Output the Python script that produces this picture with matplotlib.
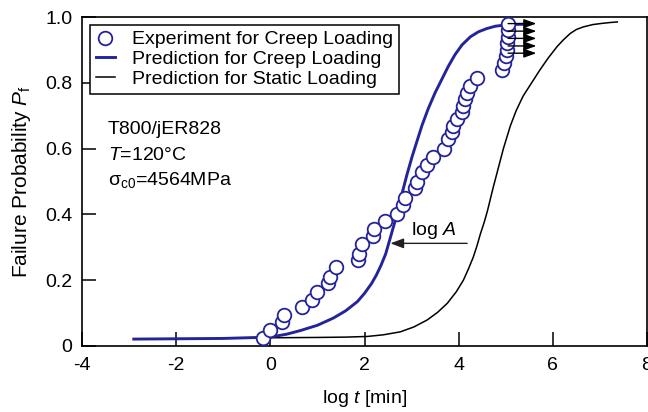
import matplotlib
matplotlib.use("Agg")
import matplotlib.pyplot as plt
from matplotlib.lines import Line2D

plt.rcParams['font.family'] = ['Liberation Sans', 'DejaVu Sans']
plt.rcParams['mathtext.fontset'] = 'custom'
plt.rcParams['mathtext.rm'] = 'Liberation Sans'
plt.rcParams['mathtext.it'] = 'Liberation Sans:italic'
plt.rcParams['mathtext.bf'] = 'Liberation Sans:bold'

# Experiment for creep loading (log t [min], failure probability)
exp_logt = [-0.15, 0.00, 0.25, 0.28, 0.68, 0.89, 1.00, 1.23, 1.27, 1.40,
            1.87, 1.89, 1.95, 2.17, 2.20, 2.44, 2.70, 2.82, 2.87, 3.08,
            3.12, 3.22, 3.33, 3.46, 3.68, 3.78, 3.86, 3.89, 3.96, 4.07,
            4.10, 4.14, 4.18, 4.25, 4.39, 4.92, 4.97, 5.01, 5.03, 5.03,
            5.04, 5.05, 5.05]
exp_pf = [0.024, 0.049, 0.073, 0.094, 0.119, 0.140, 0.164, 0.190, 0.210, 0.240,
          0.260, 0.280, 0.310, 0.335, 0.355, 0.380, 0.400, 0.430, 0.450, 0.480,
          0.500, 0.530, 0.550, 0.575, 0.600, 0.630, 0.650, 0.670, 0.690, 0.710,
          0.730, 0.750, 0.770, 0.790, 0.815, 0.840, 0.860, 0.880, 0.900, 0.920,
          0.940, 0.960, 0.980]

# Run-outs (arrows) at the top of the data column
runout_logt = [5.05, 5.05, 5.05, 5.05, 5.05]
runout_pf = [0.980, 0.957, 0.935, 0.912, 0.890]

# Prediction for creep loading
creep_logt = [-2.9, -1.0, 0.0, 0.35, 0.64, 1.0, 1.34, 1.6, 1.85, 2.0, 2.15, 2.25,
              2.35, 2.45, 2.55, 2.65, 2.73, 2.80, 2.9, 3.01, 3.12, 3.22, 3.35,
              3.5, 3.64, 3.78, 3.92, 4.07, 4.25, 4.42, 4.6, 4.78, 5.05, 5.40]
creep_pf = [0.021, 0.023, 0.027, 0.036, 0.047, 0.063, 0.085, 0.107, 0.135, 0.160,
            0.190, 0.215, 0.245, 0.280, 0.330, 0.380, 0.425, 0.465, 0.520, 0.575,
            0.625, 0.670, 0.720, 0.770, 0.810, 0.850, 0.885, 0.915, 0.940, 0.955,
            0.965, 0.972, 0.977, 0.978]

# Prediction for static loading
static_logt = [0.0, 1.0, 1.6, 2.06, 2.4, 2.76, 3.05, 3.33, 3.55, 3.76, 3.95, 4.10,
               4.21, 4.31, 4.39, 4.46, 4.54, 4.61, 4.67, 4.73, 4.84, 4.95, 5.10,
               5.22, 5.37, 5.55, 5.73, 5.90, 6.09, 6.22, 6.37, 6.50, 6.65, 6.85,
               7.01, 7.20, 7.37]
static_pf = [0.025, 0.026, 0.027, 0.029, 0.034, 0.043, 0.058, 0.079, 0.102, 0.130,
             0.165, 0.200, 0.235, 0.270, 0.305, 0.340, 0.375, 0.410, 0.445, 0.480,
             0.540, 0.600, 0.670, 0.715, 0.760, 0.800, 0.840, 0.875, 0.910, 0.930,
             0.950, 0.962, 0.970, 0.977, 0.980, 0.983, 0.985]

xticks = [-4, -2, 0, 2, 4, 6, 8]
xticklabels = ['-4', '-2', '0', '2', '4', '6', '8']
yticks = [0, 0.2, 0.4, 0.6, 0.8, 1.0]
yticklabels = ['0', '0.2', '0.4', '0.6', '0.8', '1.0']

blue = '#24249a'
fs = 14

fig = plt.figure(figsize=(6.48, 4.12), dpi=100)
ax = fig.add_axes([82/648, 66/412, 565/648, 329/412])

ax.plot(static_logt, static_pf, color='black', lw=1.1, zorder=2)
ax.plot(creep_logt, creep_pf, color=blue, lw=2.1, zorder=3)
ax.plot(exp_logt, exp_pf, linestyle='none', marker='o', ms=9.8,
        mfc='white', mec=blue, mew=1.3, zorder=4)

for xr, yr in zip(runout_logt, runout_pf):
    ax.annotate('', xy=(xr + 0.6, yr), xytext=(xr, yr),
                arrowprops=dict(arrowstyle='-|>,head_length=0.75,head_width=0.27',
                                color='black', lw=1.0, shrinkA=0, shrinkB=0),
                zorder=5)

# log A arrow
ax.annotate('', xy=(2.55, 0.312), xytext=(4.18, 0.312),
            arrowprops=dict(arrowstyle='-|>,head_length=0.8,head_width=0.3',
                            color='#231f20', lw=1.0, shrinkA=0, shrinkB=0))
ax.text(3.46, 0.338, 'log $A$', ha='center', va='baseline', fontsize=fs)

ax.set_xlim(-4, 8)
ax.set_ylim(0, 1.0)
ax.set_xticks(xticks)
ax.set_xticklabels(xticklabels)
ax.set_yticks(yticks)
ax.set_yticklabels(yticklabels)
ax.tick_params(axis='both', direction='in', length=10, width=1.1, labelsize=fs)
ax.tick_params(axis='x', pad=8)
ax.tick_params(axis='y', pad=7)
for s in ax.spines.values():
    s.set_linewidth(1.2)

ax.set_xlabel('log $t$ [min]', fontsize=fs, labelpad=10)
ax.set_ylabel('Failure Probability $P_{\\rm f}$', fontsize=15, labelpad=9)

ax.text(0.046, 0.657, 'T800/jER828', transform=ax.transAxes, fontsize=fs, va='center')
ax.text(0.046, 0.580, '$T$=120°C', transform=ax.transAxes, fontsize=fs, va='center')
ax.text(0.046, 0.505, 'σ$_{\\rm c0}$=4564MPa', transform=ax.transAxes, fontsize=fs, va='center')

handles = [
    Line2D([], [], linestyle='none', marker='o', ms=9.8, mfc='white', mec=blue, mew=1.3),
    Line2D([], [], color=blue, lw=2.1),
    Line2D([], [], color='black', lw=1.1),
]
labels = ['Experiment for Creep Loading', 'Prediction for Creep Loading',
          'Prediction for Static Loading']
leg = ax.legend(handles, labels, loc='upper left', bbox_to_anchor=(0.014, 0.976),
                borderaxespad=0, fontsize=fs, frameon=True, fancybox=False,
                edgecolor='black', framealpha=1, handlelength=1.0,
                handletextpad=0.85, labelspacing=0.12, borderpad=0.3)
leg.get_frame().set_linewidth(1.1)

fig.savefig('out.png', dpi=100)
